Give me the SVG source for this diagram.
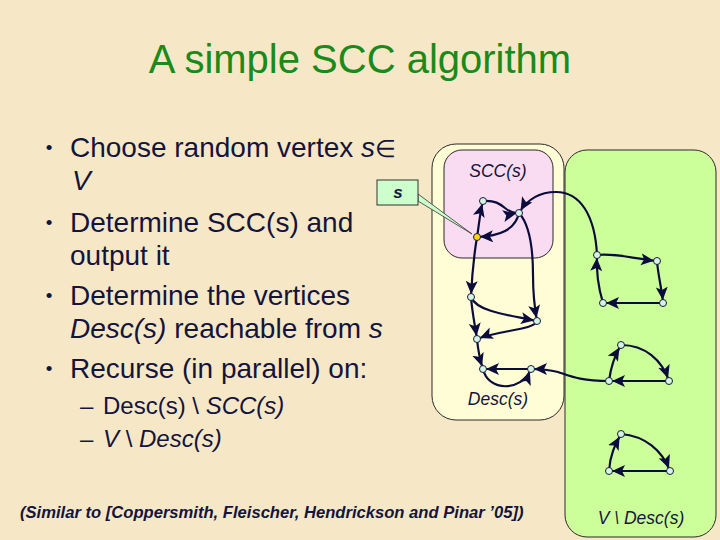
<svg xmlns="http://www.w3.org/2000/svg" width="720" height="540" viewBox="0 0 720 540">
<defs>
<marker id="ah" markerUnits="userSpaceOnUse" markerWidth="18" markerHeight="14" refX="16" refY="6" orient="auto">
<path d="M0,0 L13,6 L0,12 L3,6 z" fill="#0c0c3c"/>
</marker>
<style>
text{font-family:"Liberation Sans",Arial,sans-serif;fill:#14143c}
.b{font-size:28px}
.bu{font-size:19px;text-anchor:middle}
.sb{font-size:24px}
.i{font-style:italic}
.lbl{font-size:17.5px;font-style:italic;text-anchor:middle}
.e{fill:none;stroke:#0c0c3c;stroke-width:2.2;marker-end:url(#ah)}
.n{fill:#d4f4e4;stroke:#1a1a40;stroke-width:1}
.box{stroke:#2a2a2a;stroke-width:1}
</style>
</defs>
<rect width="720" height="540" fill="#f6e8c7"/>
<text x="360" y="73" text-anchor="middle" style="font-size:40px;fill:#1a8a1a">A simple SCC algorithm</text>
<g id="bullets">
<text class="bu" x="49" y="154">•</text>
<text class="b" x="70" y="157">Choose random vertex <tspan class="i">s</tspan><tspan style="font-family:'DejaVu Sans',sans-serif;font-size:24px;font-weight:200">∈</tspan></text>
<text class="b i" x="72" y="190">V</text>
<text class="bu" x="49" y="229">•</text>
<text class="b" x="70" y="232">Determine SCC(s) and</text>
<text class="b" x="70" y="265">output it</text>
<text class="bu" x="49" y="302">•</text>
<text class="b" x="70" y="305">Determine the vertices</text>
<text class="b" x="70" y="338"><tspan class="i">Desc(s)</tspan> reachable from <tspan class="i">s</tspan></text>
<text class="bu" x="49" y="375">•</text>
<text class="b" x="70" y="378">Recurse (in parallel) on:</text>
<text class="sb" x="80" y="414">–</text>
<text class="sb" x="103" y="414">Desc(s) \ <tspan class="i">SCC(s)</tspan></text>
<text class="sb" x="80" y="447">–</text>
<text class="sb" x="103" y="447"><tspan class="i">V</tspan> \ <tspan class="i">Desc(s)</tspan></text>
</g>
<text x="20" y="518" style="font-size:16.6px;font-weight:bold;font-style:italic">(Similar to [Coppersmith, Fleischer, Hendrickson and Pinar ’05])</text>
<g id="desc-box">
<rect class="box" x="432" y="144" width="132" height="276" rx="24" fill="#fffdd6"/>
<text class="lbl" x="498" y="405">Desc(s)</text>
</g>
<g id="scc-box">
<rect class="box" x="444" y="150" width="109" height="108" rx="18" fill="#f9dcf1"/>
<text class="lbl" x="498" y="177">SCC(s)</text>
</g>
<g id="rest-box">
<rect class="box" x="565" y="150" width="151" height="387" rx="22" fill="#ccff99"/>
<text class="lbl" x="641" y="524">V \ Desc(s)</text>
</g>
<g id="s-callout">
<polygon points="418,194 418,201 472,234" fill="#ccffcc" stroke="#333" stroke-width="0.8"/>
<rect x="377" y="180" width="41" height="25" fill="#ccffcc" stroke="#333" stroke-width="1"/>
<text x="398" y="198" text-anchor="middle" style="font-size:17px;font-weight:bold;font-style:italic">s</text>
</g>
<g id="connectors">
<path class="e" d="M477,237 C479,225 480,212 483,201"/>
<path class="e" d="M477,237 C474,255 472,275 471,297"/>
<path class="e" d="M483,201 C495,200 500,204 505,208 C510,212 514,214 519,213"/>
<path class="e" d="M519,213 C515,230 500,236 477,237"/>
<path class="e" d="M597,255 C595,215 580,192 556,192 C540,192 528,198 519,213"/>
<path class="e" d="M519,213 C530,225 533,250 533,275 C533,295 535,310 537,321"/>
<path class="e" d="M597,255 C615,253 630,258 657,261"/>
<path class="e" d="M603,303 C599,290 596,275 597,255"/>
<path class="e" d="M657,261 C658,275 662,290 663,303"/>
<path class="e" d="M663,303 L603,303"/>
<path class="e" d="M471,297 C476,310 500,314 537,321"/>
<path class="e" d="M471,297 C472,312 475,325 477,339"/>
<path class="e" d="M537,321 C534,330 500,330 477,339"/>
<path class="e" d="M477,339 C478,350 480,360 483,369"/>
<path class="e" d="M531,369 L483,369"/>
<path class="e" d="M483,369 C488,392 522,392 531,369"/>
<path class="e" d="M609,381 C580,381 570,376 558,372 C550,370 540,369 531,369"/>
<path class="e" d="M669,381 L609,381"/>
<path class="e" d="M609,381 C611,365 615,355 621,345"/>
<path class="e" d="M621,345 C645,345 662,360 669,381"/>
<path class="e" d="M609,471 C610,455 615,445 621,434"/>
<path class="e" d="M621,434 C645,436 662,450 670,471"/>
<path class="e" d="M670,471 L609,471"/>
</g>
<g id="nodes">
<circle id="n1" class="n" cx="483" cy="201" r="3.5"/>
<circle id="n2" class="n" cx="519" cy="213" r="3.5"/>
<circle id="s" cx="477" cy="237" r="3.5" fill="#ffd800" stroke="#1a1a40" stroke-width="1"/>
<circle id="d1" class="n" cx="471" cy="297" r="3.5"/>
<circle id="d2" class="n" cx="537" cy="321" r="3.5"/>
<circle id="d3" class="n" cx="477" cy="339" r="3.5"/>
<circle id="d4" class="n" cx="483" cy="369" r="3.5"/>
<circle id="d5" class="n" cx="531" cy="369" r="3.5"/>
<circle id="g1" class="n" cx="597" cy="255" r="3.5"/>
<circle id="g2" class="n" cx="657" cy="261" r="3.5"/>
<circle id="g3" class="n" cx="603" cy="303" r="3.5"/>
<circle id="g4" class="n" cx="663" cy="303" r="3.5"/>
<circle id="g5" class="n" cx="621" cy="345" r="3.5"/>
<circle id="g6" class="n" cx="609" cy="381" r="3.5"/>
<circle id="g7" class="n" cx="669" cy="381" r="3.5"/>
<circle id="g8" class="n" cx="621" cy="434" r="3.5"/>
<circle id="g9" class="n" cx="609" cy="471" r="3.5"/>
<circle id="g10" class="n" cx="670" cy="471" r="3.5"/>
</g>
</svg>
